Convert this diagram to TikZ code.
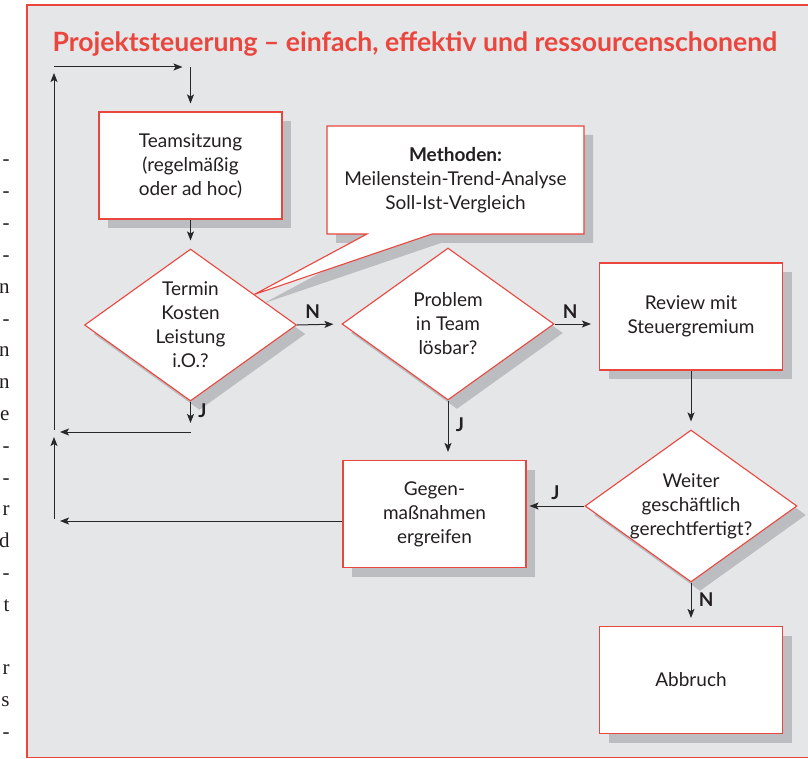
\documentclass[tikz,border=0pt]{standalone}
\usepackage{fontspec}
\setmainfont{Lato}
\newfontfamily\pagefont{Liberation Serif}
\usetikzlibrary{arrows.meta,positioning,shapes.geometric,shadows,backgrounds,calc}
\definecolor{psred}{RGB}{234,70,62}
\definecolor{psgray}{RGB}{229,230,232}
\definecolor{psshadow}{RGB}{188,189,192}
\definecolor{pstext}{RGB}{35,31,32}
\definecolor{psline}{RGB}{40,40,40}

\begin{document}
\begin{tikzpicture}[x=1pt,y=-1pt,>={Stealth[length=9pt,width=7pt,inset=2pt]},
 line width=1pt, text=pstext, font=\fontsize{19}{24}\selectfont,
 boxshadow/.style={drop shadow={shadow xshift=9pt,shadow yshift=-9pt,fill=psshadow,opacity=1}},
 stepbox/.style={draw=psred, fill=white, line width=1.1pt, minimum width=183pt,
  minimum height=107pt, align=center, boxshadow},
 decision/.style={diamond, draw=psred, fill=white, line width=1.1pt, minimum width=212pt,
  minimum height=152pt, aspect=1.4, inner sep=-6pt, align=center, boxshadow},
 flow/.style={->, draw=psline, shorten >=8pt},
 answer/.style={font=\fontsize{19}{19}\selectfont\bfseries}]
 \useasboundingbox (0,0) rectangle (808,759);
 \clip (0,0) rectangle (808,759);

 \foreach \ch [count=\i from 0] in {-,-,-,-,n,-,n,n,e,-,-,r,d,-,t,{},r,s,-}
  \node[font=\pagefont\fontsize{21}{21}\selectfont, anchor=base east, inner sep=0pt]
   (frag\i) at (10,166+31.8*\i) {\ch};

 \node[font=\fontsize{26.6}{26.6}\selectfont\bfseries, text=psred, anchor=base west, inner sep=0pt]
  (title) at (52,52) {Projektsteuerung – einfach, effektiv und ressourcenschonend};

 \node[stepbox] (team) at (190.5,165.5) {Teamsitzung\\(regelmäßig\\oder ad hoc)};
 \node[decision] (term) at (190.5,325) {Termin\\Kosten\\Leistung\\i.O.?};
 \node[decision] (prob) at (448,324) {Problem\\in Team\\lösbar?};
 \node[stepbox] (review) at (691,316.5) {Review mit\\Steuergremium};
 \node[decision] (weiter) at (691,506) {Weiter\\geschäftlich\\gerechtfertigt?};
 \node[stepbox] (gegen) at (434.5,514) {Gegen-\\maßnahmen\\ergreifen};
 \node[stepbox] (abbruch) at (691,680) {Abbruch};
 \node[align=center] (meth) at (455.5,180) {\textbf{Methoden:}\\Meilenstein-Trend-Analyse\\Soll-Ist-Vergleich};

 \begin{scope}[on background layer]
  \draw[draw=psred, fill=psgray, line width=1.2pt] (27,5) rectangle (830,757.5);
  \coordinate (tip) at ($(term.north)!0.6!(term.east)$);
  \draw[draw=psred, fill=white, line width=1.1pt, boxshadow] (327,126) -- (584,126) -- (584,234)
   -- (432,234) -- (tip) -- (367,234) -- (327,234) -- cycle;
 \end{scope}

 \coordinate (loopnw) at (54,67);
 \coordinate (loopne) at (190.5,67);
 \coordinate (loopj) at (190.5,432);
 \coordinate (loopmid) at (54,432);
 \coordinate (loopsw) at (54,521);

 \draw[flow] (loopnw) -- (loopne);
 \draw[flow] (loopne) -- (team.north);
 \draw[flow] (team) -- (term);
 \draw[flow, shorten >=9pt] (term.south) -- node[answer, right=4pt, pos=0.3] {J} (loopj);
 \draw[flow, shorten >=6pt] (loopj) -- (loopmid);
 \draw[flow, shorten >=6pt] (gegen.west |- loopsw) -- (loopsw);
 \draw[flow, shorten >=5pt, shorten <=2pt] (loopsw) -- (loopmid);
 \draw[flow, shorten >=6pt, shorten <=2pt] (loopmid) -- (loopnw);
 \draw[flow] (term.east) -- node[answer, above=2pt, pos=0.35] {N} (prob.west);
 \draw[flow] (prob.east) -- node[answer, above=2pt, pos=0.35] {N} (prob.east -| review.west);
 \draw[flow] (review) -- (weiter);
 \draw[flow] (prob.south) -- node[answer, right=4pt, pos=0.4] {J} (prob.south |- gegen.north);
 \draw[flow, shorten >=3pt] (weiter.west) -- node[answer, above=3pt] {J} (weiter.west -| gegen.east);
 \draw[flow] (weiter.south) -- node[answer, right=4pt, pos=0.4] {N} (abbruch.north);
\end{tikzpicture}
\end{document}
